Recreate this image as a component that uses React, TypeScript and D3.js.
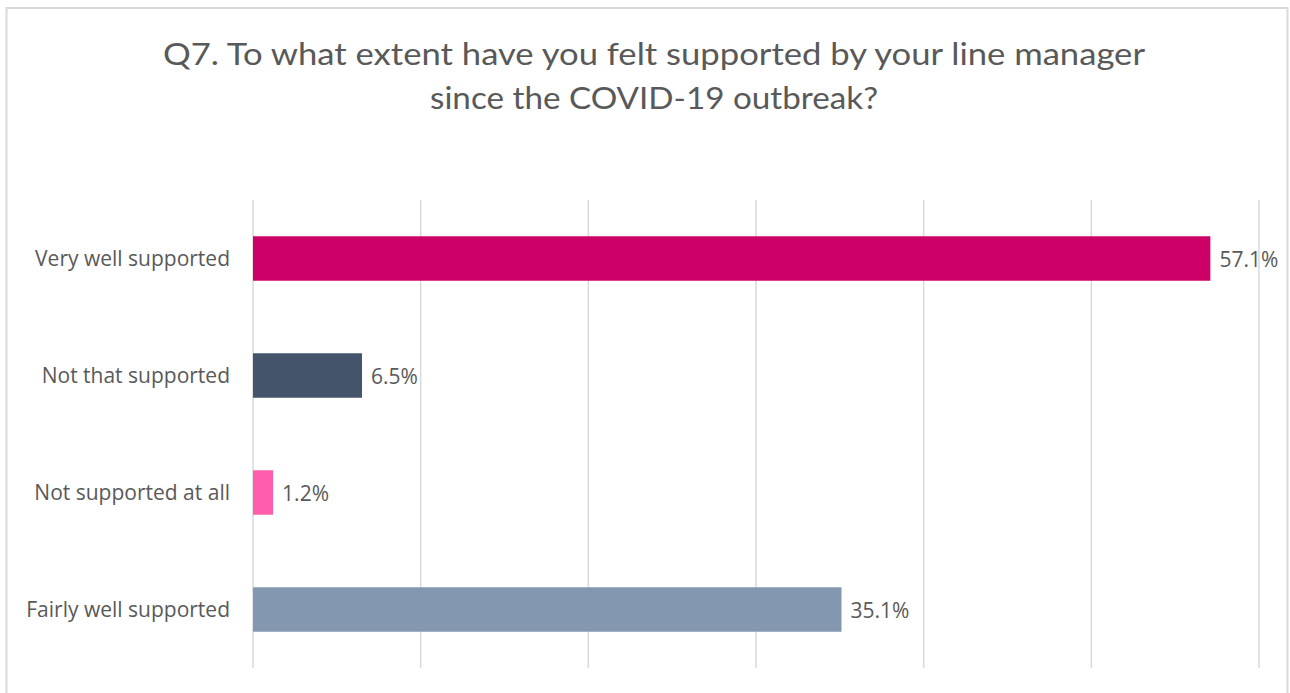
import React from "react";
import * as d3 from "d3";

// Survey responses (percent of respondents)
const categories = [
  "Very well supported",
  "Not that supported",
  "Not supported at all",
  "Fairly well supported",
];
const values = [57.1, 6.5, 1.2, 35.1];
const colors = ["#CC0066", "#44546A", "#FF5CAB", "#8497B0"];
const gridTicks = [0, 10, 20, 30, 40, 50, 60];
const titleLines = [
  "Q7. To what extent have you felt supported by your line manager",
  "since the COVID-19 outbreak?",
];

const W = 1290;
const H = 693;
const plot = { left: 253, right: 1259, top: 200, bottom: 668 };

export default function App() {
  const x = d3.scaleLinear().domain([0, 60]).range([plot.left, plot.right]);
  const y = d3
    .scaleBand<string>()
    .domain(categories)
    .range([plot.top, plot.bottom])
    .paddingInner(0.62)
    .paddingOuter(0.31);

  const textColor = "#595959";
  const font = "'Open Sans', 'DejaVu Sans', sans-serif";

  return (
    <div style={{ position: "absolute", left: 0, top: 0 }}>
      <svg width={W} height={H} style={{ display: "block" }}>
        <rect x={0} y={0} width={W} height={H} fill="#ffffff" />
        <rect
          x={6.5}
          y={8}
          width={1281}
          height={H + 20}
          fill="#ffffff"
          stroke="#d9d9d9"
          strokeWidth={2}
        />
        {titleLines.map((t, i) => (
          <text
            key={i}
            x={654}
            y={65 + i * 44}
            textAnchor="middle"
            fill={textColor}
            fontFamily="Lato, 'Open Sans', sans-serif"
            fontWeight={400}
            fontSize={31}
            textLength={i === 0 ? 982 : 448}
            lengthAdjust="spacingAndGlyphs"
          >
            {t}
          </text>
        ))}
        {gridTicks.map((t) => (
          <line
            key={t}
            x1={x(t)}
            x2={x(t)}
            y1={plot.top}
            y2={plot.bottom}
            stroke="#d9d9d9"
            strokeWidth={1.5}
          />
        ))}
        {categories.map((c, i) => {
          const by = y(c)!;
          const bh = y.bandwidth();
          return (
            <g key={c}>
              <rect
                x={x(0)}
                y={by}
                width={x(values[i]) - x(0)}
                height={bh}
                fill={colors[i]}
              />
              <text
                x={230}
                y={by + bh / 2}
                dy="0.35em"
                textAnchor="end"
                fill={textColor}
                fontFamily={font}
                fontSize={21}
              >
                {c}
              </text>
              <text
                x={x(values[i]) + 9}
                y={by + bh / 2}
                dy="0.4em"
                textAnchor="start"
                fill={textColor}
                fontFamily={font}
                fontSize={21}
              >
                {values[i].toFixed(1)}%
              </text>
            </g>
          );
        })}
      </svg>
    </div>
  );
}
